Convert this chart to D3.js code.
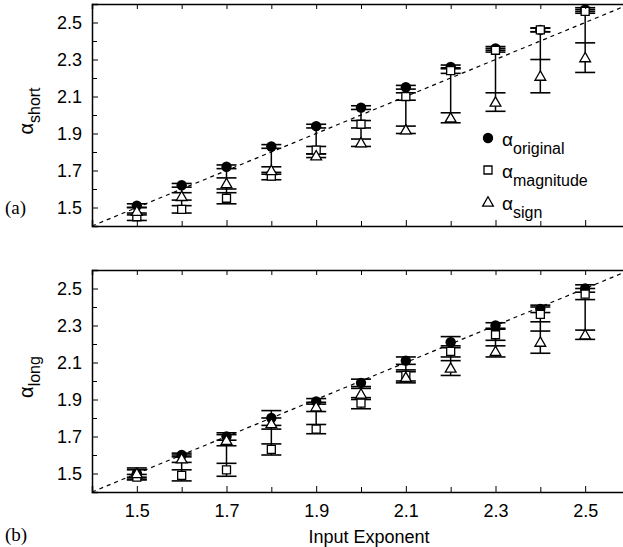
<!DOCTYPE html>
<html>
<head>
<meta charset="utf-8">
<script src="https://cdn.jsdelivr.net/npm/d3@7"></script>
<style>
  body { margin: 0; background: #fff; }
  svg { display: block; font-family: "Liberation Sans", Arial, sans-serif; }
  .axis path, .axis line { stroke: #000; }
  .axis text { font-size: 18px; fill: #000; }
</style>
</head>
<body>
<svg id="chart" width="623" height="547"></svg>
<script>
// x values shared by both panels
const inputExponent = [1.5, 1.6, 1.7, 1.8, 1.9, 2.0, 2.1, 2.2, 2.3, 2.4, 2.5];

// (a) short
const shortOriginal = [1.51, 1.62, 1.72, 1.83, 1.94, 2.04, 2.15, 2.26, 2.36, 2.46, 2.57];
const shortOriginalErr = [0.01, 0.01, 0.01, 0.01, 0.01, 0.01, 0.01, 0.01, 0.01, 0.01, 0.01];
const shortMagnitude = [1.45, 1.49, 1.55, 1.67, 1.81, 1.95, 2.10, 2.24, 2.35, 2.46, 2.56];
const shortMagnitudeErr = [0.02, 0.02, 0.03, 0.02, 0.02, 0.02, 0.02, 0.015, 0.01, 0.01, 0.01];
const shortSign = [1.48, 1.56, 1.63, 1.70, 1.78, 1.85, 1.92, 1.985, 2.07, 2.21, 2.31];
const shortSignErr = [0.02, 0.02, 0.03, 0.02, 0.01, 0.02, 0.02, 0.027, 0.05, 0.09, 0.08];

// (b) long
const longOriginal = [1.50, 1.60, 1.70, 1.80, 1.89, 1.99, 2.11, 2.21, 2.30, 2.39, 2.50];
const longOriginalErr = [0.03, 0.01, 0.02, 0.04, 0.015, 0.02, 0.02, 0.03, 0.015, 0.02, 0.02];
const longMagnitude = [1.48, 1.49, 1.52, 1.63, 1.74, 1.88, 2.03, 2.16, 2.25, 2.36, 2.47];
const longMagnitudeErr = [0.015, 0.03, 0.035, 0.03, 0.025, 0.03, 0.03, 0.03, 0.03, 0.04, 0.03];
const longSign = [1.50, 1.58, 1.68, 1.77, 1.86, 1.93, 2.02, 2.07, 2.16, 2.21, 2.25];
const longSignErr = [0.02, 0.02, 0.03, 0.03, 0.025, 0.03, 0.03, 0.04, 0.03, 0.06, 0.025];

const majorTicks = [1.5, 1.7, 1.9, 2.1, 2.3, 2.5];
const minorTicks = [1.6, 1.8, 2.0, 2.2, 2.4];
const axisDomain = [1.4, 2.6];
const legendLabels = ["original", "magnitude", "sign"];

const svg = d3.select("#chart");

const x = d3.scaleLinear().domain(axisDomain).range([92, 630]);

const panels = [
  { top: 4, bottom: 226, sub: "short", tag: "(a)", tagY: 214, xLabels: false,
    orig: shortOriginal, origErr: shortOriginalErr,
    mag: shortMagnitude, magErr: shortMagnitudeErr,
    sign: shortSign, signErr: shortSignErr },
  { top: 270, bottom: 492, sub: "long", tag: "(b)", tagY: 541, xLabels: true,
    orig: longOriginal, origErr: longOriginalErr,
    mag: longMagnitude, magErr: longMagnitudeErr,
    sign: longSign, signErr: longSignErr }
];

const circleSym = d3.symbol().type(d3.symbolCircle).size(85);
const squareSym = d3.symbol().type(d3.symbolSquare).size(64);
const triSym = d3.symbol().type(d3.symbolTriangle).size(50);

panels.forEach(function(p, pi) {
  const y = d3.scaleLinear().domain(axisDomain).range([p.bottom, p.top]);
  const g = svg.append("g");

  // dashed diagonal y = x
  g.append("line")
    .attr("x1", x(axisDomain[0]))
    .attr("y1", y(axisDomain[0]))
    .attr("x2", x(axisDomain[1]))
    .attr("y2", y(axisDomain[1]))
    .attr("stroke", "#000")
    .attr("stroke-width", 1.2)
    .attr("stroke-dasharray", "4,4");

  const rows = inputExponent.map(function(e, i) {
    return {
      x: e,
      series: [
        { v: p.orig[i], err: p.origErr[i] },
        { v: p.mag[i], err: p.magErr[i] },
        { v: p.sign[i], err: p.signErr[i] }
      ]
    };
  });

  // vertical line joining the range of all three error bars
  g.selectAll("line.span")
    .data(rows)
    .join("line")
    .attr("class", "span")
    .attr("x1", function(d) { return x(d.x); })
    .attr("x2", function(d) { return x(d.x); })
    .attr("y1", function(d) {
      return y(d3.max(d.series, function(s) { return s.v + s.err; }));
    })
    .attr("y2", function(d) {
      return y(d3.min(d.series, function(s) { return s.v - s.err; }));
    })
    .attr("stroke", "#000")
    .attr("stroke-width", 1.5);

  // error bar caps
  const caps = [];
  rows.forEach(function(r) {
    r.series.forEach(function(s) {
      caps.push({ x: r.x, v: s.v + s.err });
      caps.push({ x: r.x, v: s.v - s.err });
    });
  });
  g.selectAll("line.cap")
    .data(caps)
    .join("line")
    .attr("class", "cap")
    .attr("x1", function(d) { return x(d.x) - 10; })
    .attr("x2", function(d) { return x(d.x) + 10; })
    .attr("y1", function(d) { return y(d.v); })
    .attr("y2", function(d) { return y(d.v); })
    .attr("stroke", "#000")
    .attr("stroke-width", 1.6);

  // markers: circle, then square, then triangle on top
  g.selectAll("path.orig")
    .data(inputExponent)
    .join("path")
    .attr("class", "orig")
    .attr("d", circleSym)
    .attr("transform", function(d, i) { return `translate(${x(d)},${y(p.orig[i])})`; })
    .attr("fill", "#000");

  g.selectAll("path.mag")
    .data(inputExponent)
    .join("path")
    .attr("class", "mag")
    .attr("d", squareSym)
    .attr("transform", function(d, i) { return `translate(${x(d)},${y(p.mag[i])})`; })
    .attr("fill", "#fff")
    .attr("stroke", "#000")
    .attr("stroke-width", 1.3);

  g.selectAll("path.sign")
    .data(inputExponent)
    .join("path")
    .attr("class", "sign")
    .attr("d", triSym)
    .attr("transform", function(d, i) { return `translate(${x(d)},${y(p.sign[i]) + 1})`; })
    .attr("fill", "#fff")
    .attr("stroke", "#000")
    .attr("stroke-width", 1.3);

  // axes, ticks point inward
  const left = g.append("g")
    .attr("class", "axis")
    .attr("transform", `translate(${x(axisDomain[0])},0)`)
    .call(d3.axisLeft(y).tickValues(majorTicks).tickSize(-6).tickPadding(10).tickFormat(d3.format(".1f")));
  left.select(".domain").attr("stroke-width", 1.5);
  g.append("g")
    .attr("class", "axis")
    .attr("transform", `translate(${x(axisDomain[0])},0)`)
    .call(d3.axisLeft(y).tickValues(minorTicks).tickSize(-5).tickFormat(""))
    .select(".domain").remove();

  const bottom = g.append("g")
    .attr("class", "axis")
    .attr("transform", `translate(0,${p.bottom})`)
    .call(d3.axisBottom(x).tickValues(majorTicks).tickSize(-6).tickPadding(12)
      .tickFormat(p.xLabels ? d3.format(".1f") : ""));
  bottom.select(".domain").attr("stroke-width", 1.5);
  g.append("g")
    .attr("class", "axis")
    .attr("transform", `translate(0,${p.bottom})`)
    .call(d3.axisBottom(x).tickValues(minorTicks).tickSize(-5).tickFormat(""))
    .select(".domain").remove();

  const topAx = g.append("g")
    .attr("class", "axis")
    .attr("transform", `translate(0,${p.top})`)
    .call(d3.axisTop(x).tickValues(majorTicks.concat(minorTicks)).tickSize(-5).tickFormat(""));
  topAx.select(".domain").attr("stroke-width", 1.5);

  // y axis label
  const yl = g.append("text")
    .attr("transform", `translate(33,${(p.top + p.bottom) / 2 - 4}) rotate(-90)`)
    .attr("text-anchor", "middle")
    .style("font-size", "20px");
  yl.append("tspan").text("α");
  yl.append("tspan").attr("dy", 7).style("font-size", "16px").text(p.sub);

  // panel tag
  g.append("text")
    .attr("x", 5)
    .attr("y", p.tagY)
    .style("font-family", "'Liberation Serif', 'Times New Roman', serif")
    .style("font-size", "19px")
    .text(p.tag);

  if (p.xLabels) {
    g.append("text")
      .attr("x", 369)
      .attr("y", 543)
      .attr("text-anchor", "middle")
      .style("font-size", "18px")
      .text("Input Exponent");
  }
});

// legend in panel (a)
const legendY = [138, 170, 202];
const legendSyms = [circleSym, squareSym, triSym];
const legend = svg.append("g");
legendLabels.forEach(function(lbl, i) {
  legend.append("path")
    .attr("d", legendSyms[i])
    .attr("transform", `translate(488,${legendY[i] + (i === 2 ? 1 : 0)})`)
    .attr("fill", i === 0 ? "#000" : "#fff")
    .attr("stroke", "#000")
    .attr("stroke-width", i === 0 ? 0 : 1.3);
  const t = legend.append("text")
    .attr("x", 502)
    .attr("y", legendY[i] + 8)
    .style("font-size", "19px");
  t.append("tspan").text("α");
  t.append("tspan").attr("dy", 8).style("font-size", "16px").text(lbl);
});
</script>
</body>
</html>
